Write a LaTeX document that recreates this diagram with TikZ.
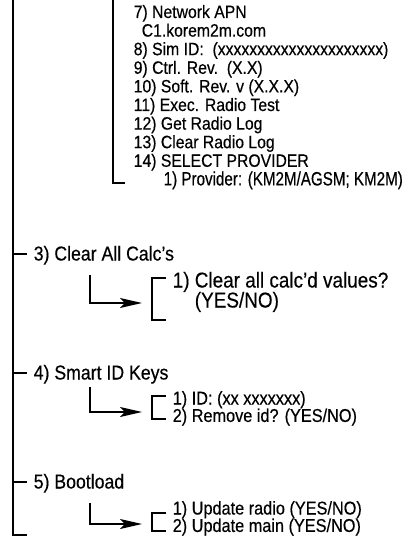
\documentclass[tikz,border=0pt]{standalone}
\usepackage{fontspec}
\setmainfont{Liberation Sans}[FakeStretch=0.88, FakeBold=0.4]
\newfontfamily\narrowfont{Liberation Sans}[FakeStretch=0.79, FakeBold=0.4]
\usepackage{tikz}
\usetikzlibrary{positioning,arrows.meta}

\begin{document}
\begin{tikzpicture}[x=1pt, y=-1pt, line width=1.5pt]
    \tikzstyle{item} = [anchor=west, inner sep=0pt, text height=13pt, text depth=0pt]
    \tikzstyle{listitem} = [item, font=\fontsize{17.9}{17.9}\selectfont]
    \tikzstyle{menu} = [item, font=\fontsize{20.1}{20.1}\selectfont]
    \tikzstyle{submenu} = [item, font=\fontsize{18.5}{18.5}\selectfont]
    \tikzstyle{pointer} = [-{Stealth[length=22pt, width=10pt, inset=5pt]}]
    \useasboundingbox (0,0) rectangle (404,537);

    % main menu line
    \coordinate (root) at (13,0);
    \coordinate (rootend) at (13,535);
    \coordinate (rootfoot) at (27,535);
    \draw (root) -- (rootend) -- (rootfoot);

    % network settings
    \coordinate (sub) at (113,0);
    \coordinate (subend) at (113,183);
    \coordinate (subfoot) at (125,183);
    \draw (sub) -- (subend) -- (subfoot);
    \foreach \txt [count=\i from 0] in {7) Network APN, \hspace{8pt}C1.korem2m.com,
            8) Sim ID:\ \ (xxxxxxxxxxxxxxxxxxxxx), 9) Ctrl. Rev.\ \ (X.X), 10) Soft. Rev. v (X.X.X),
            11) Exec. Radio Test, 12) Get Radio Log, 13) Clear Radio Log, 14) SELECT PROVIDER}
        \node [listitem] (L\i) at (133, 11.5+18.6*\i) {\txt};
    \node [listitem, font=\narrowfont\fontsize{19.2}{19.2}\selectfont] (L9) at (163, 178.9)
        {1) Provider: (KM2M/AGSM; KM2M)};

    % main menu items
    \node [menu] (S3) at (33,254) {3) Clear All Calc’s};
    \node [menu] (S4) at (33,373) {4) Smart ID Keys};
    \node [menu] (S5) at (33,482) {5) Bootload};
    \foreach \s in {3, 4, 5}
        \draw (S\s.west -| root) -- ([xshift=-6pt]S\s.west);

    % sub menus
    \node [submenu, font=\fontsize{21.5}{21.5}\selectfont] (C1) at (172,281) {1) Clear all calc’d values?};
    \node [submenu, font=\fontsize{21.5}{21.5}\selectfont] (C2) at (172,301) {\phantom{1) }(YES/NO)};
    \node [submenu] (K1) at (172,398) {1) ID: (xx xxxxxxx)};
    \node [submenu] (K2) at (172,415.4) {2) Remove id? (YES/NO)};
    \node [submenu] (B1) at (172,508) {1) Update radio (YES/NO)};
    \node [submenu] (B2) at (172,525.4) {2) Update main (YES/NO)};

    \foreach \s/\top/\bot/\from/\to in {3/278/320/275/303, 4/396/419/387/412, 5/513/531/503/524} {
        \coordinate (A\s) at (90,\from);
        \coordinate (T\s) at (142,\to);
        \draw [pointer] (A\s) |- (T\s);
        \draw (166,\top) -- (152,\top) -- (152,\bot) -- (166,\bot);
    }
\end{tikzpicture}
\end{document}
